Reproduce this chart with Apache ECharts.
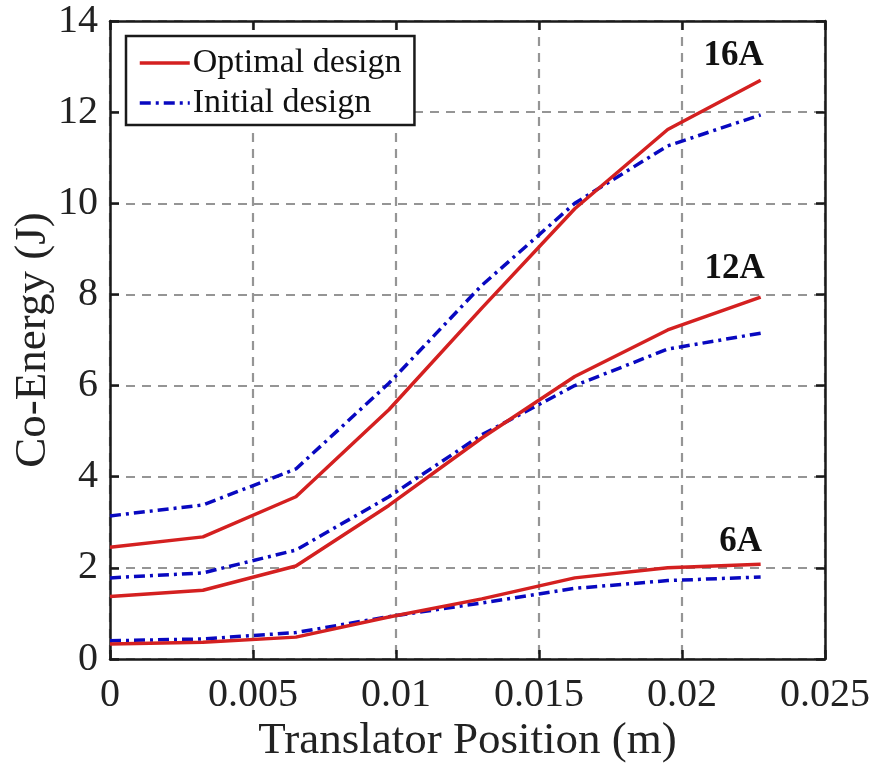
<!DOCTYPE html>
<html>
<head>
<meta charset="utf-8">
<script src="https://cdn.jsdelivr.net/npm/echarts@6/dist/echarts.min.js"></script>
<style>
html,body{margin:0;padding:0;background:#fff;}
#chart{width:873px;height:773px;}
</style>
</head>
<body>
<div id="chart"></div>
<script>
// Translator position (m)
var positions = [0, 0.00325, 0.0065, 0.00975, 0.013, 0.01625, 0.0195, 0.02275];

// Co-energy (J)
var opt16 = [2.45, 2.68, 3.56, 5.47, 7.7, 9.88, 11.62, 12.7];
var ini16 = [3.14, 3.38, 4.17, 6.05, 8.2, 10.0, 11.26, 11.94];
var opt12 = [1.37, 1.51, 2.04, 3.37, 4.85, 6.2, 7.22, 7.94];
var ini12 = [1.78, 1.89, 2.39, 3.56, 4.92, 6.0, 6.8, 7.15];
var opt6 = [0.33, 0.37, 0.48, 0.92, 1.32, 1.78, 2.0, 2.08];
var ini6 = [0.40, 0.44, 0.58, 0.93, 1.23, 1.55, 1.72, 1.80];

var xTicks = [0, 0.005, 0.01, 0.015, 0.02, 0.025];
var yTicks = [0, 2, 4, 6, 8, 10, 12, 14];
var currentLabels = ['16A', '12A', '6A'];
var legendNames = ['Optimal design', 'Initial design'];

var RED = '#d42020';
var BLUE = '#0808c0';
var FONT = '"Liberation Serif", "Times New Roman", serif';

function pairs(ys) {
  return positions.map(function (x, i) { return [x, ys[i]]; });
}

function lineSeries(name, ys, color, dash, label, offset) {
  var s = {
    name: name,
    type: 'line',
    data: pairs(ys),
    symbol: 'none',
    showSymbol: false,
    smooth: false,
    lineStyle: { color: color, width: 3.5, type: dash },
    itemStyle: { color: color },
    z: dash === 'solid' ? 4 : 3,
    animation: false
  };
  if (label) {
    var last = ys.length - 1;
    s.markPoint = {
      symbol: 'circle',
      symbolSize: 1,
      itemStyle: { color: 'rgba(0,0,0,0)' },
      data: [{ coord: [positions[last], ys[last]], value: label }],
      label: {
        show: true,
        formatter: label,
        position: 'inside',
        offset: offset,
        fontFamily: FONT,
        fontWeight: 'bold',
        fontSize: 35,
        color: '#111'
      },
      animation: false
    };
  }
  return s;
}

var dashDot = [11, 5, 3, 5];

function axisLine() { return { show: true, onZero: false, lineStyle: { color: '#1a1a1a', width: 2.5 } }; }
function tick() { return { show: true, inside: true, length: 9, lineStyle: { color: '#1a1a1a', width: 2.5 } }; }
function grid() { return { show: true, lineStyle: { color: '#959595', width: 2.2, type: [9, 7] } }; }

var chart = echarts.init(document.getElementById('chart'));
chart.setOption({
  backgroundColor: '#fff',
  animation: false,
  grid: { left: 110, right: 48, top: 21, bottom: 114, containLabel: false, outerBoundsMode: 'none' },
  legend: {
    data: legendNames,
    orient: 'vertical',
    left: 126,
    top: 36,
    padding: [10, 13, 5, 12],
    itemGap: 6,
    itemWidth: 50,
    itemHeight: 30,
    backgroundColor: '#fff',
    borderColor: '#1a1a1a',
    borderWidth: 2.5,
    borderRadius: 0,
    itemStyle: { opacity: 0 },
    lineStyle: { width: 3.5 },
    textStyle: { fontFamily: FONT, fontSize: 34, color: '#111', padding: [0, 0, 0, -2] }
  },
  xAxis: [{
    type: 'value',
    min: 0, max: 0.025, interval: 0.005,
    position: 'bottom',
    name: 'Translator Position (m)',
    nameLocation: 'middle',
    nameGap: 60,
    nameMoveOverlap: false,
    nameTextStyle: { fontFamily: FONT, fontSize: 45, color: '#222' },
    axisLine: axisLine(),
    axisTick: tick(),
    axisLabel: {
      fontFamily: FONT, fontSize: 40, color: '#222', margin: 16,
      formatter: function (v) { return String(parseFloat(v.toFixed(4))); }
    },
    splitLine: grid()
  }, {
    type: 'value',
    min: 0, max: 0.025, interval: 0.005,
    position: 'top',
    axisLine: axisLine(),
    axisTick: tick(),
    axisLabel: { show: false },
    splitLine: { show: false }
  }],
  yAxis: [{
    type: 'value',
    min: 0, max: 14, interval: 2,
    position: 'left',
    name: 'Co-Energy (J)',
    nameLocation: 'middle',
    nameGap: 54,
    nameMoveOverlap: false,
    nameTextStyle: { fontFamily: FONT, fontSize: 45, color: '#222' },
    axisLine: axisLine(),
    axisTick: tick(),
    axisLabel: { fontFamily: FONT, fontSize: 40, color: '#222', margin: 12 },
    splitLine: grid()
  }, {
    type: 'value',
    min: 0, max: 14, interval: 2,
    position: 'right',
    axisLine: axisLine(),
    axisTick: tick(),
    axisLabel: { show: false },
    splitLine: { show: false }
  }],
  series: [
    lineSeries(legendNames[0], opt16, RED, 'solid', currentLabels[0], [-27, -24]),
    lineSeries(legendNames[1], ini16, BLUE, dashDot),
    lineSeries(legendNames[0], opt12, RED, 'solid', currentLabels[1], [-26, -28]),
    lineSeries(legendNames[1], ini12, BLUE, dashDot),
    lineSeries(legendNames[0], opt6, RED, 'solid', currentLabels[2], [-20, -22]),
    lineSeries(legendNames[1], ini6, BLUE, dashDot)
  ]
});
</script>
</body>
</html>
